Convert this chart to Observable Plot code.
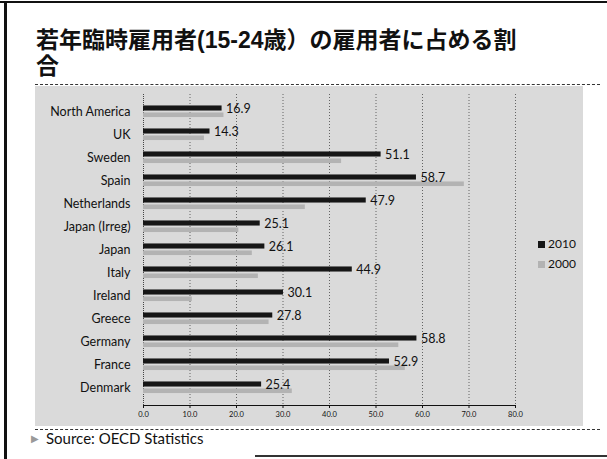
<!DOCTYPE html>
<html>
<head>
<meta charset="utf-8">
<script src="https://cdn.jsdelivr.net/npm/d3@7"></script>
<script src="https://cdn.jsdelivr.net/npm/@observablehq/plot@0.6"></script>
<style>
  body { margin: 0; background: #fff; }
  #page { position: relative; width: 607px; height: 459px; background: #fff; overflow: hidden; }
  .abs { position: absolute; }
  .title { left: 36px; font-family: "Liberation Sans", "Noto Sans CJK JP", sans-serif; font-weight: bold; font-size: 23px; line-height: 26px; height: 26px; color: #111; white-space: nowrap; }
  .dots { height: 0; border-top: 1.5px dashed #333; }
  #chartbg { left: 35px; top: 86px; width: 548px; height: 340px; background: #dadada; }
  #plot { left: 35px; top: 88px; }
  #plot svg { background: transparent !important; }
  #plot svg [aria-label^="x-axis"] text { font-size: 7.5px; }
  #legend { left: 538px; top: 234px; font-family: Lato, sans-serif; font-size: 12px; color: #111; line-height: 20px; }
  #legend .sw { display: inline-block; width: 7px; height: 7px; margin-right: 3px; vertical-align: 0px; }
  #source { left: 31px; top: 429px; font-family: Lato, sans-serif; font-size: 15px; color: #111; }
  #source .arr { color: #999; font-size: 10px; margin-right: 7px; vertical-align: 2px; }
</style>
</head>
<body>
<div id="page">
  <div class="abs" style="left:4px;top:1px;width:3px;height:459px;background:#111"></div>
  <div class="abs" style="left:0;top:1px;width:607px;height:2px;background:#111"></div>
  <div class="abs" style="left:255px;top:455px;width:352px;height:2px;background:#333"></div>
  <div class="abs title" style="top:27px">若年臨時雇用者(15-24歳）の雇用者に占める割</div>
  <div class="abs title" style="top:53px">合</div>
  <div class="abs dots" style="left:35px;top:84px;width:565px"></div>
  <div id="chartbg" class="abs"></div>
  <div id="plot" class="abs"></div>
  <div class="abs dots" style="left:35px;top:429px;width:565px"></div>
  <div id="legend" class="abs"></div>
  <div id="source" class="abs"><span class="arr">▶</span>Source: OECD Statistics</div>
</div>
<script>
const countries = ["North America", "UK", "Sweden", "Spain", "Netherlands", "Japan (Irreg)", "Japan", "Italy", "Ireland", "Greece", "Germany", "France", "Denmark"];
const values2010 = [16.9, 14.3, 51.1, 58.7, 47.9, 25.1, 26.1, 44.9, 30.1, 27.8, 58.8, 52.9, 25.4];
const values2000 = [17.3, 13.1, 42.6, 69.0, 34.8, 20.5, 23.4, 24.7, 10.5, 27.0, 54.9, 56.3, 32.0];
const seriesNames = ["2010", "2000"];
const seriesColors = ["#161616", "#b3b3b3"];
const xTicks = [0, 10, 20, 30, 40, 50, 60, 70, 80];

const rows = countries.map((c, i) => ({country: c, v2010: values2010[i], v2000: values2000[i]}));

const W = 548, H = 338;
const mL = 108, mR = 68, mT = 6, mB = 21;
const band = (H - mT - mB) / countries.length;
const half = band / 2;

const chart = Plot.plot({
  width: W,
  height: H,
  marginLeft: mL,
  marginRight: mR,
  marginTop: mT,
  marginBottom: mB,
  style: {background: "transparent", fontFamily: "Lato, sans-serif", fontSize: "12.5px", color: "#111"},
  x: {domain: [0, 80], ticks: xTicks, tickFormat: d3.format(".1f"), tickSize: 3, tickPadding: 3, line: true, label: null},
  y: {domain: countries, padding: 0, tickSize: 0, tickPadding: 13, label: null},
  marks: [
    Plot.gridX(xTicks.filter(d => d > 0), {stroke: "#555", strokeOpacity: 0.9, strokeDasharray: "1,2"}),
    Plot.ruleX([0], {stroke: "#444", strokeDasharray: "1,1"}),
    Plot.barX(rows, {x: "v2000", y: "country", fill: seriesColors[1], insetTop: half + 0.5, insetBottom: half - 6}),
    Plot.barX(rows, {x: "v2010", y: "country", fill: seriesColors[0], insetTop: half - 6.5, insetBottom: half + 0.5}),
    Plot.text(rows, {x: "v2010", y: "country", text: d => d.v2010.toFixed(1), dx: 4, dy: -3.5, textAnchor: "start", fontSize: 12.5, fill: "#111"})
  ]
});
document.getElementById("plot").appendChild(chart);

const legend = document.getElementById("legend");
seriesNames.forEach((s, i) => {
  const row = document.createElement("div");
  const sw = document.createElement("span");
  sw.className = "sw";
  sw.style.background = seriesColors[i];
  row.appendChild(sw);
  row.appendChild(document.createTextNode(s));
  legend.appendChild(row);
});
</script>
</body>
</html>
